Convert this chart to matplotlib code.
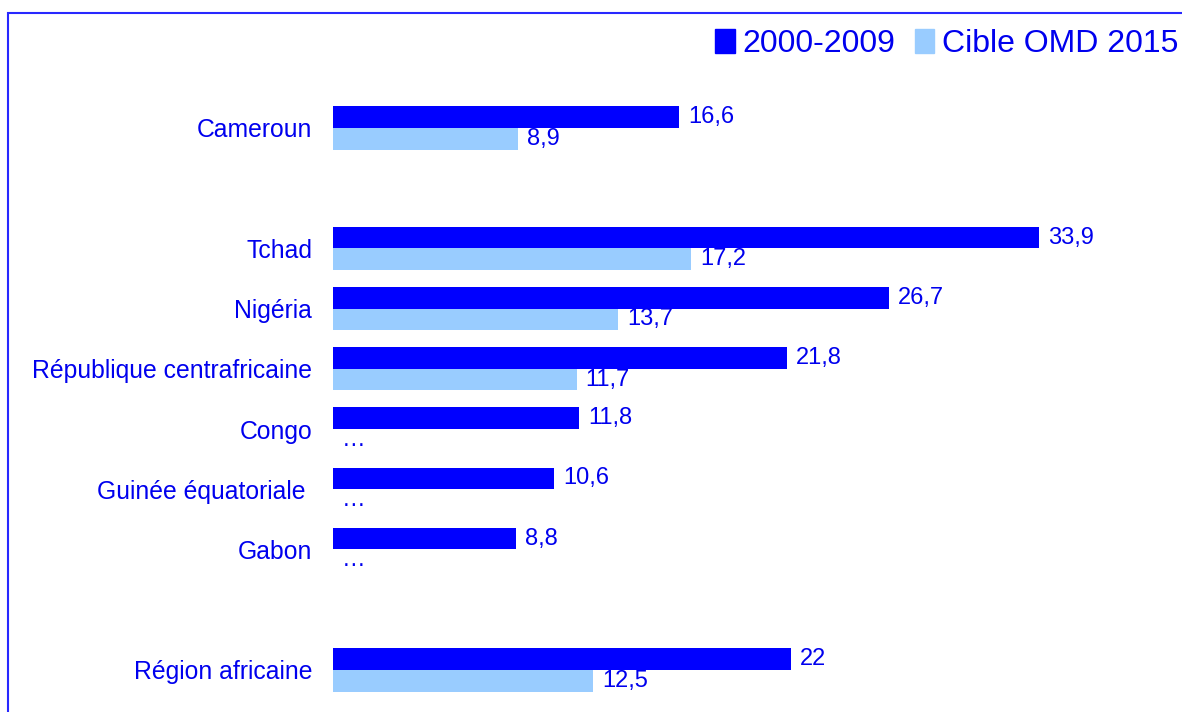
import matplotlib.pyplot as plt
from matplotlib.patches import Patch, Rectangle

plt.rcParams['font.family'] = ['Liberation Sans', 'DejaVu Sans']

# rows (blank strings are spacer rows)
categories = ['Cameroun', '', 'Tchad', 'Nigéria', 'République centrafricaine',
              'Congo', 'Guinée équatoriale ', 'Gabon', '', 'Région africaine']
val_2000 = [16.6, None, 33.9, 26.7, 21.8, 11.8, 10.6, 8.8, None, 22]
val_omd = [8.9, None, 17.2, 13.7, 11.7, None, None, None, None, 12.5]
series_names = ['2000-2009', 'Cible OMD 2015']

dark = '#0000FF'
light = '#99CCFF'
txt = '#0000EE'

fig = plt.figure(figsize=(11.82, 7.12), dpi=100)
W, H = 1182, 712
ax = fig.add_axes([333 / W, 0, 1 - 333 / W, 1 - 13 / H])

bh = 0.36
for i, (a, b) in enumerate(zip(val_2000, val_omd)):
    if a is None:
        continue
    ax.barh(i - bh / 2, a, height=bh, color=dark)
    ax.annotate(f'{a:g}'.replace('.', ','), (a, i - bh / 2), xytext=(6.5, 0),
                textcoords='offset points', va='center', ha='left',
                fontsize=17, color=txt)
    if b is None:
        ax.annotate('…', (0, i + bh / 2), xytext=(6.5, 0),
                    textcoords='offset points', va='center', ha='left',
                    fontsize=17, color=txt)
    else:
        ax.barh(i + bh / 2, b, height=bh, color=light)
        ax.annotate(f'{b:g}'.replace('.', ','), (b, i + bh / 2), xytext=(6.5, 0),
                    textcoords='offset points', va='center', ha='left',
                    fontsize=17, color=txt)

ax.set_xlim(0, 40.76)
ax.set_ylim(9.70, -1.91)
ax.set_yticks(range(len(categories)))
ax.set_yticklabels(categories, fontsize=17.8, color=txt)
ax.tick_params(axis='y', length=0, pad=15)
ax.set_xticks([])
for s in ax.spines.values():
    s.set_visible(False)

# outer frame
fig.patches.append(Rectangle((8 / W, -0.01), 1.0, 1 - 13 / H + 0.01,
                             transform=fig.transFigure, fill=False,
                             edgecolor='#2828FF', linewidth=1.5))

handles = [Patch(color=dark), Patch(color=light)]
fig.legend(handles, series_names, loc='upper right', bbox_to_anchor=(1.021, 1.0),
           ncol=2, frameon=False, fontsize=23, labelcolor=txt,
           handlelength=0.6, handleheight=0.8, handletextpad=0.25,
           columnspacing=0.6)

fig.savefig('out.png', dpi=100)
